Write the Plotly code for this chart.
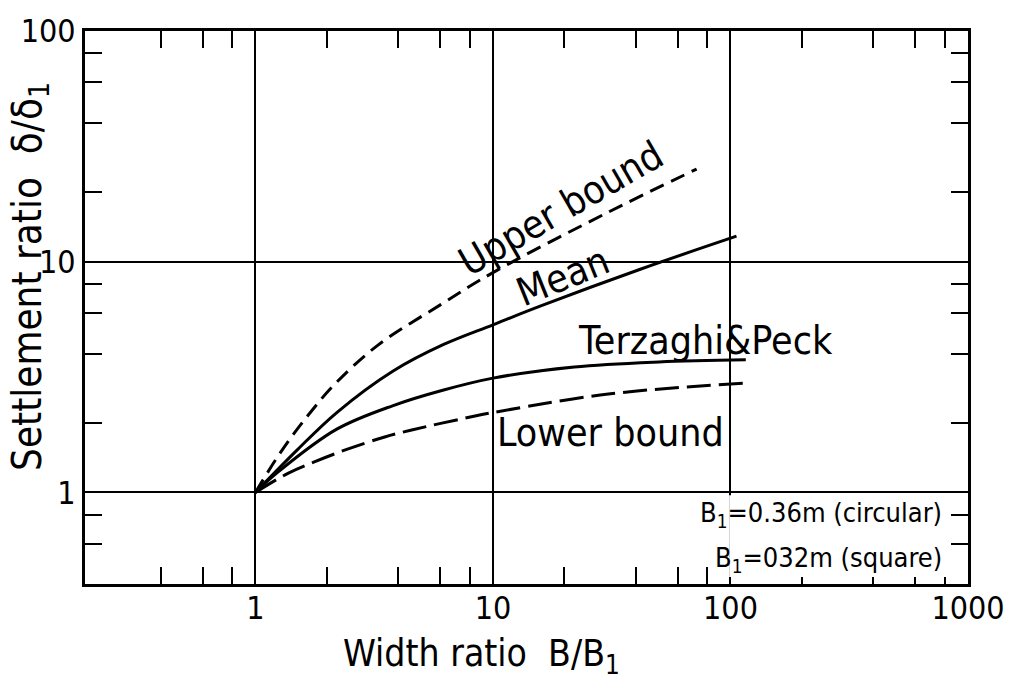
import math
import plotly.graph_objects as go

# Settlement ratio vs width ratio (log-log)
upper_x = [1, 1.28, 1.66, 2.16, 3.26, 6.0, 10, 30.6, 72]
upper_y = [1, 1.5, 2.15, 2.95, 4.33, 6.5, 8.97, 16.4, 25.2]

mean_x = [1, 1.5, 2.2, 3.8, 6.2, 10, 16, 42, 106]
mean_y = [1, 1.53, 2.22, 3.36, 4.38, 5.33, 6.45, 9.3, 12.9]

tp_x = [1, 1.25, 2.2, 3.8, 6.2, 10, 22, 50, 116]
tp_y = [1, 1.23, 1.88, 2.38, 2.78, 3.13, 3.5, 3.68, 3.76]

lower_x = [1, 1.37, 1.78, 2.44, 3.5, 4.5, 8.5, 10, 30.6, 116]
lower_y = [1, 1.21, 1.36, 1.54, 1.74, 1.86, 2.15, 2.22, 2.67, 2.98]

x_major = [1, 10, 100, 1000]
x_major_text = ["1", "10", "100", "1000"]
x_minor = [0.4, 0.6, 0.8, 2, 4, 6, 8, 20, 40, 60, 80, 200, 400, 600, 800]
y_major = [1, 10, 100]
y_major_text = ["1", "10", "100"]
y_minor = [0.6, 0.8, 2, 4, 6, 8, 20, 40, 60, 80]

x_range = [math.log10(0.1916), 3]
y_range = [math.log10(0.401), 2]

FONT = "DejaVu Sans Condensed, Liberation Sans Narrow, DejaVu Sans, sans-serif"

fig = go.Figure()

def curve(x, y, dash):
    fig.add_trace(go.Scatter(
        x=x, y=y, mode="lines",
        line=dict(color="black", width=3, dash=dash, shape="spline", smoothing=1.0),
        showlegend=False, hoverinfo="skip"))

curve(upper_x, upper_y, "15px,8px")
curve(mean_x, mean_y, "solid")
curve(tp_x, tp_y, "solid")
curve(lower_x, lower_y, "24px,8px")

# plot-area pixel helpers (plot area spans 85..976 x 23..584)
L, R, T, B = 85, 976, 23, 584

def px(x):
    return (x - L) / (R - L)

def py(y):
    return (B - y) / (B - T)

shapes = []
# breaks in the grid where the curve labels sit
for x0, x1, y0, y1 in [(450, 635, 252, 264), (489, 501, 208, 298), (734, 746, 310, 395)]:
    shapes.append(dict(type="rect", xref="paper", yref="paper",
                       x0=px(x0), x1=px(x1), y0=py(y1), y1=py(y0),
                       fillcolor="white", line=dict(width=0), layer="between"))
# white panel behind the B1 note
shapes.append(dict(type="rect", xref="paper", yref="paper",
                   x0=px(735), x1=px(958), y0=py(577), y1=py(494),
                   fillcolor="white", line=dict(width=0), layer="above"))

lab = dict(family=FONT, size=39, color="black")
note = dict(family=FONT, size=27, color="black")
annotations = [
    dict(x=1.285, y=1.231, xref="x", yref="y", text="Upper bound", textangle=-30,
         showarrow=False, font=lab),
    dict(x=1.293, y=0.936, xref="x", yref="y", text="Mean", textangle=-22,
         showarrow=False, font=lab),
    dict(x=1.894, y=0.660, xref="x", yref="y", text="Terzaghi&Peck",
         showarrow=False, font=lab),
    dict(x=1.494, y=0.261, xref="x", yref="y", text="Lower bound",
         showarrow=False, font=lab),
    dict(x=px(952), y=py(513), xref="paper", yref="paper", xanchor="right", yanchor="middle",
         text="B<sub>1</sub>=0.36m (circular)", showarrow=False, font=note),
    dict(x=px(952), y=py(559), xref="paper", yref="paper", xanchor="right", yanchor="middle",
         text="B<sub>1</sub>=032m (square)", showarrow=False, font=note),
    dict(x=px(485), y=py(657), xref="paper", yref="paper", xanchor="center", yanchor="middle",
         text="Width ratio  B/B<sub>1</sub>", showarrow=False,
         font=dict(family=FONT, size=37, color="black")),
    dict(x=px(30), y=py(272), xref="paper", yref="paper", xanchor="center", yanchor="middle",
         text="Settlement ratio  δ/δ<sub>1</sub>", textangle=-90, showarrow=False,
         font=dict(family=FONT, size=40, color="black")),
]

axis_common = dict(
    type="log", showline=True, linecolor="black", linewidth=3, mirror="allticks",
    showgrid=True, gridcolor="black", gridwidth=2,
    ticks="inside", ticklen=17, tickwidth=2, tickcolor="black",
    tickfont=dict(family=FONT, size=32, color="black"),
    zeroline=False,
)

fig.update_layout(
    width=1017, height=688,
    margin=dict(l=L, r=1017 - R, t=T, b=688 - B),
    paper_bgcolor="white", plot_bgcolor="white",
    xaxis=dict(axis_common, range=x_range, tickmode="array", tickvals=x_major,
               ticktext=x_major_text, ticklabelstandoff=-6,
               minor=dict(tickmode="array", tickvals=x_minor, ticks="inside", ticklen=17,
                          tickwidth=2, tickcolor="black", showgrid=False)),
    yaxis=dict(axis_common, range=y_range, tickmode="array", tickvals=y_major,
               ticktext=y_major_text, ticklabelstandoff=0,
               minor=dict(tickmode="array", tickvals=y_minor, ticks="inside", ticklen=17,
                          tickwidth=2, tickcolor="black", showgrid=False)),
    shapes=shapes,
    annotations=annotations,
    showlegend=False,
)

fig.write_html("out.html")
